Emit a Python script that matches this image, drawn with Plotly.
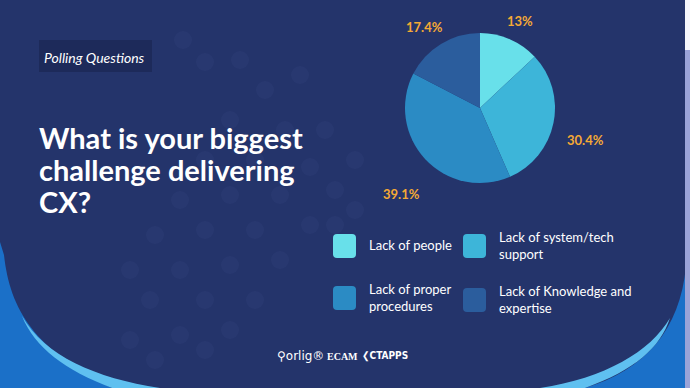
import math
import plotly.graph_objects as go

# ---- data ----
categories = ["Lack of people", "Lack of system/tech support",
              "Lack of proper procedures", "Lack of Knowledge and expertise"]
legend_lines = [["Lack of people"], ["Lack of system/tech", "support"],
                ["Lack of proper", "procedures"], ["Lack of Knowledge and", "expertise"]]
values = [13, 30.4, 39.1, 17.4]
colors = ["#68e0ea", "#3db5d9", "#2b8bc4", "#2b5d9d"]

title_lines = ["What is your biggest", "challenge delivering", "CX?"]
tag_text = "Polling Questions"

W, H = 690, 388
BG = "#24346b"
LABEL_COLOR = "#f4a935"


def px(x):
    return x / W


def py(y):
    return 1 - y / H


def path(cmds):
    out = []
    for cmd in cmds:
        if isinstance(cmd, str):
            out.append(cmd)
        else:
            out.append(f"{px(cmd[0]):.5f},{py(cmd[1]):.5f}")
    return " ".join(out)


# pie geometry (pixels)
CX, CY, R = 480, 108, 75

fig = go.Figure()
fig.add_trace(go.Pie(
    values=values, labels=categories, sort=False, direction="clockwise",
    rotation=0, marker=dict(colors=colors, line=dict(width=0)),
    textinfo="none",
    domain=dict(x=[px(CX - R), px(CX + R)], y=[py(CY + R), py(CY - R)]),
    hoverinfo="skip", showlegend=False,
))

shapes = []
annotations = []

# outside-end data labels, positioned from the slice mid-angles
total = sum(values)
cum = 0
for v in values:
    mid = (cum + v / 2) / total * 2 * math.pi
    cum += v
    ux, uy = math.sin(mid), -math.cos(mid)
    txt = f"{v:g}%"
    w, h = len(txt) * 7.3, 11
    lx = CX + (R + 14) * ux + ux * w / 2
    ly = CY + (R + 14) * uy + uy * h / 2 + 25 * max(uy, 0) ** 0.4
    annotations.append(dict(text=f"<b>{txt}</b>", xref="paper", yref="paper",
                            x=px(lx), y=py(ly), xanchor="center", yanchor="middle",
                            showarrow=False,
                            font=dict(family="Lato", size=13, color=LABEL_COLOR)))

# faint decorative dots
dots = [(183, 40), (205, 62), (240, 60), (265, 90), (230, 120), (300, 75), (285, 130),
        (310, 167), (335, 190), (255, 160), (280, 195), (310, 225), (230, 195), (205, 230),
        (255, 230), (280, 260), (230, 265), (205, 300), (255, 300), (180, 270), (150, 300),
        (180, 335), (155, 360), (130, 340), (205, 350), (230, 330), (335, 225), (325, 130),
        (355, 160), (355, 210), (205, 160), (180, 200), (155, 235), (130, 270)]
for (x, y) in dots:
    shapes.append(dict(type="circle", xref="paper", yref="paper",
                       x0=px(x - 9), x1=px(x + 9), y0=py(y + 9), y1=py(y - 9),
                       fillcolor="rgba(120,140,200,0.06)", line=dict(width=0), layer="below"))

# bottom-left swoosh
shapes.append(dict(type="path", xref="paper", yref="paper", layer="below",
                   path=path(["M", (0, 242), "L", (4, 255), "C", (10, 310), (35, 350), (112, 388),
                              "L", (0, 388), "Z"]),
                   fillcolor="#1b70c8", line=dict(width=0)))
shapes.append(dict(type="path", xref="paper", yref="paper", layer="below",
                   path=path(["M", (22, 316), "C", (45, 356), (95, 378), (160, 388),
                              "L", (112, 388), "C", (65, 370), (35, 348), (22, 316), "Z"]),
                   fillcolor="#5fc0f0", line=dict(width=0)))
# bottom-right swoosh
shapes.append(dict(type="path", xref="paper", yref="paper", layer="below",
                   path=path(["M", (686, 266), "C", (680, 330), (645, 370), (585, 388),
                              "L", (686, 388), "Z"]),
                   fillcolor="#1b70c8", line=dict(width=0)))
shapes.append(dict(type="path", xref="paper", yref="paper", layer="below",
                   path=path(["M", (670, 318), "C", (650, 352), (605, 378), (540, 388),
                              "L", (585, 388), "C", (635, 370), (660, 348), (670, 318), "Z"]),
                   fillcolor="#5fc0f0", line=dict(width=0)))
# right edge strip
shapes.append(dict(type="rect", xref="paper", yref="paper", x0=px(685), x1=1, y0=py(50), y1=1,
                   fillcolor="#f4f5fb", line=dict(width=0)))
shapes.append(dict(type="rect", xref="paper", yref="paper", x0=px(685), x1=1, y0=0, y1=py(50),
                   fillcolor="#9aa3d8", line=dict(width=0)))
# tag box
shapes.append(dict(type="rect", xref="paper", yref="paper", x0=px(39), x1=px(152),
                   y0=py(72), y1=py(40), fillcolor="#1d2a5a", line=dict(width=0)))

annotations.append(dict(text=tag_text, xref="paper", yref="paper", x=px(42), y=py(57),
                        xanchor="left", yanchor="middle", showarrow=False,
                        font=dict(family="Lato", size=14, color="white", style="italic")))
for i, line in enumerate(title_lines):
    annotations.append(dict(text=f"<b>{line}</b>", xref="paper", yref="paper",
                            x=px(37), y=py(137 + 32 * i), xanchor="left", yanchor="middle",
                            showarrow=False,
                            font=dict(family="Lato", size=29, color="white")))

# legend (custom)
leg_pos = [(333, 246), (463, 246), (333, 298), (463, 300)]
for (lx, ly), col, lines in zip(leg_pos, colors, legend_lines):
    shapes.append(dict(type="path", xref="paper", yref="paper",
                       path=path(["M", (lx + 4, ly - 12), "L", (lx + 19, ly - 12),
                                  "Q", (lx + 23, ly - 12), (lx + 23, ly - 8),
                                  "L", (lx + 23, ly + 8), "Q", (lx + 23, ly + 12), (lx + 19, ly + 12),
                                  "L", (lx + 4, ly + 12), "Q", (lx, ly + 12), (lx, ly + 8),
                                  "L", (lx, ly - 8), "Q", (lx, ly - 12), (lx + 4, ly - 12), "Z"]),
                       fillcolor=col, line=dict(width=0)))
    n = len(lines)
    for j, t in enumerate(lines):
        yy = ly + (j - (n - 1) / 2) * 17 - 1
        annotations.append(dict(text=t, xref="paper", yref="paper", x=px(lx + 34), y=py(yy),
                                xanchor="left", yanchor="middle", showarrow=False,
                                font=dict(family="Lato", size=13, color="white")))

# logos (as text)
annotations.append(dict(text="⚲orlig®", xref="paper", yref="paper", x=px(300), y=py(356),
                        xanchor="center", yanchor="middle", showarrow=False,
                        font=dict(family="DejaVu Sans", size=12, color="white")))
annotations.append(dict(text="<b>ECAM</b>", xref="paper", yref="paper", x=px(342), y=py(356),
                        xanchor="center", yanchor="middle", showarrow=False,
                        font=dict(family="Liberation Sans Narrow", size=10, color="white")))
annotations.append(dict(text="<b>❮CTAPPS</b>", xref="paper", yref="paper", x=px(385), y=py(356),
                        xanchor="center", yanchor="middle", showarrow=False,
                        font=dict(family="DejaVu Sans Condensed", size=10, color="white")))

fig.update_layout(
    width=W, height=H, margin=dict(l=0, r=0, t=0, b=0),
    paper_bgcolor=BG, plot_bgcolor=BG,
    shapes=shapes, annotations=annotations, showlegend=False,
)
fig.write_html("out.html", config={"displayModeBar": False},
               post_script="document.body.style.margin='0';")
